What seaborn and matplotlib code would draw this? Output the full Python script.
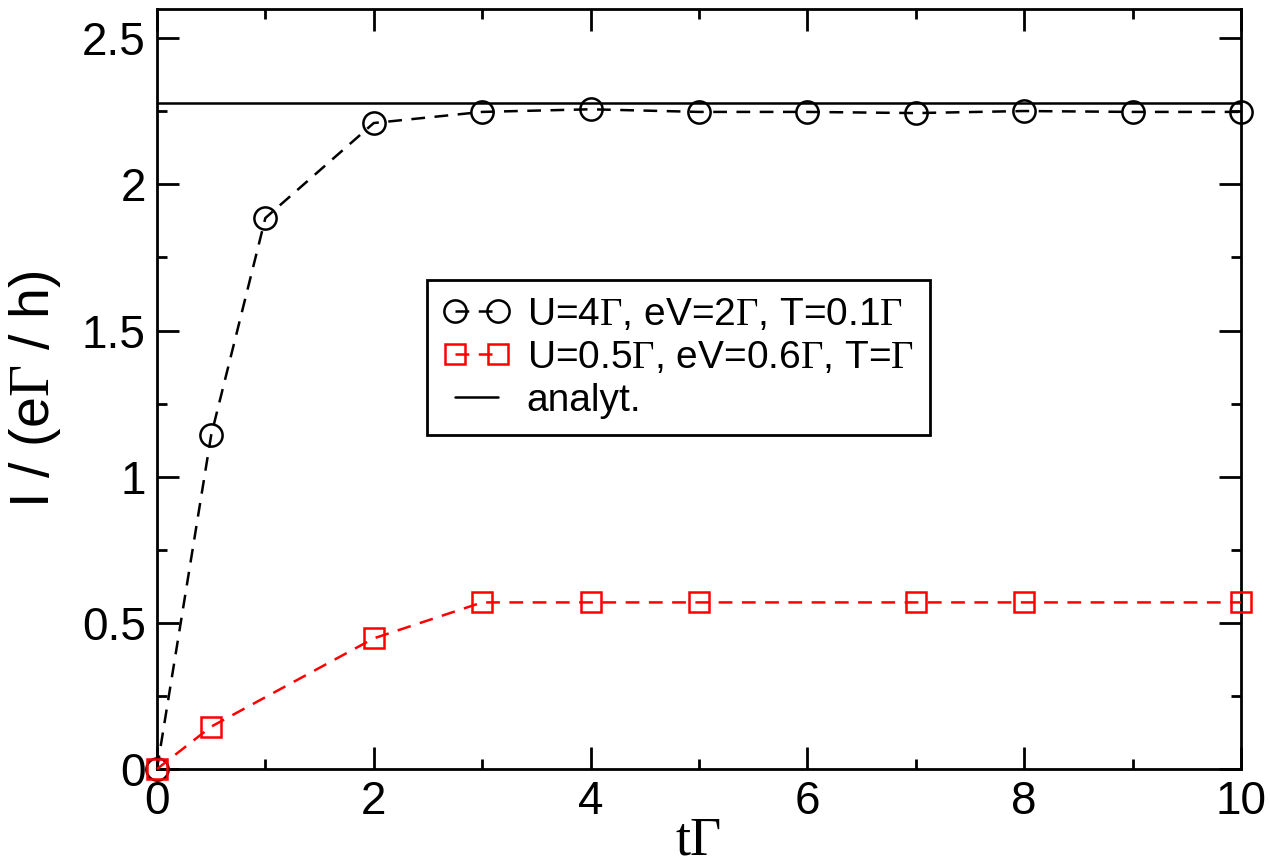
import matplotlib
matplotlib.use("Agg")
import matplotlib.pyplot as plt
import seaborn as sns
from matplotlib.ticker import MultipleLocator, FormatStrFormatter

# data
t_black = [0, 0.5, 1, 2, 3, 4, 5, 6, 7, 8, 9, 10]
i_black = [0, 1.142, 1.885, 2.21, 2.248, 2.257, 2.248, 2.248, 2.244, 2.251, 2.248, 2.248]

t_red = [0, 0.5, 2, 3, 4, 5, 7, 8, 10]
i_red = [0, 0.145, 0.447, 0.570, 0.570, 0.570, 0.570, 0.570, 0.570]

i_analyt = 2.278

label_black = r"U=4$\Gamma$, eV=2$\Gamma$, T=0.1$\Gamma$"
label_red = r"U=0.5$\Gamma$, eV=0.6$\Gamma$, T=$\Gamma$"
label_analyt = "analyt."

sns.set_theme(style="ticks")
plt.rcParams["font.family"] = ["Liberation Sans", "DejaVu Sans"]
plt.rcParams["mathtext.fontset"] = "custom"
plt.rcParams["mathtext.rm"] = "Liberation Serif"
plt.rcParams["mathtext.it"] = "Liberation Serif:italic"
plt.rcParams["text.color"] = "black"
plt.rcParams["axes.labelcolor"] = "black"

fig = plt.figure(figsize=(12.7, 8.67), dpi=100)
ax = fig.add_axes([0.1236, 0.113, 0.8535, 0.8766])

dash = (0, (5.5, 3.8))
sns.lineplot(x=t_black, y=i_black, ax=ax, color="black", linestyle=dash, lw=1.8,
             marker="o", markersize=16, markerfacecolor="none", markeredgecolor="black",
             markeredgewidth=1.8, label=label_black, sort=False, clip_on=False, zorder=3)
sns.lineplot(x=t_red, y=i_red, ax=ax, color="red", linestyle=dash, lw=1.8,
             marker="s", markersize=14, markerfacecolor="none", markeredgecolor="red",
             markeredgewidth=1.8, label=label_red, sort=False, clip_on=False, zorder=3)
ax.axhline(i_analyt, color="black", lw=1.8, label=label_analyt, zorder=2)

ax.set_xlim(0, 10)
ax.set_ylim(0, 2.6)
ax.xaxis.set_major_locator(MultipleLocator(2))
ax.xaxis.set_minor_locator(MultipleLocator(1))
ax.yaxis.set_major_locator(MultipleLocator(0.5))
ax.yaxis.set_minor_locator(MultipleLocator(0.25))
ax.xaxis.set_major_formatter(FormatStrFormatter("%g"))
ax.yaxis.set_major_formatter(FormatStrFormatter("%g"))

ax.tick_params(which="both", direction="in", top=True, right=True, width=2,
               color="black", labelcolor="black")
ax.tick_params(which="major", length=16, labelsize=33, pad=8)
ax.tick_params(which="minor", length=7.5)
for s in ax.spines.values():
    s.set_linewidth(2)
    s.set_color("black")

ax.set_xlabel("tΓ", family="Liberation Serif", fontsize=39, labelpad=-6)
ax.set_ylabel(r"I / (e$\Gamma$ / h)", fontsize=40, labelpad=14)

leg = ax.legend(loc="upper left", bbox_to_anchor=(0.249, 0.643), fontsize=28, numpoints=2,
                handlelength=1.7, handletextpad=0.45, labelspacing=0.18, borderpad=0.42,
                borderaxespad=0, frameon=True, fancybox=False, shadow=False, framealpha=1)
leg.get_frame().set_edgecolor("black")
leg.get_frame().set_linewidth(2)

fig.savefig("out.png", dpi=100)
